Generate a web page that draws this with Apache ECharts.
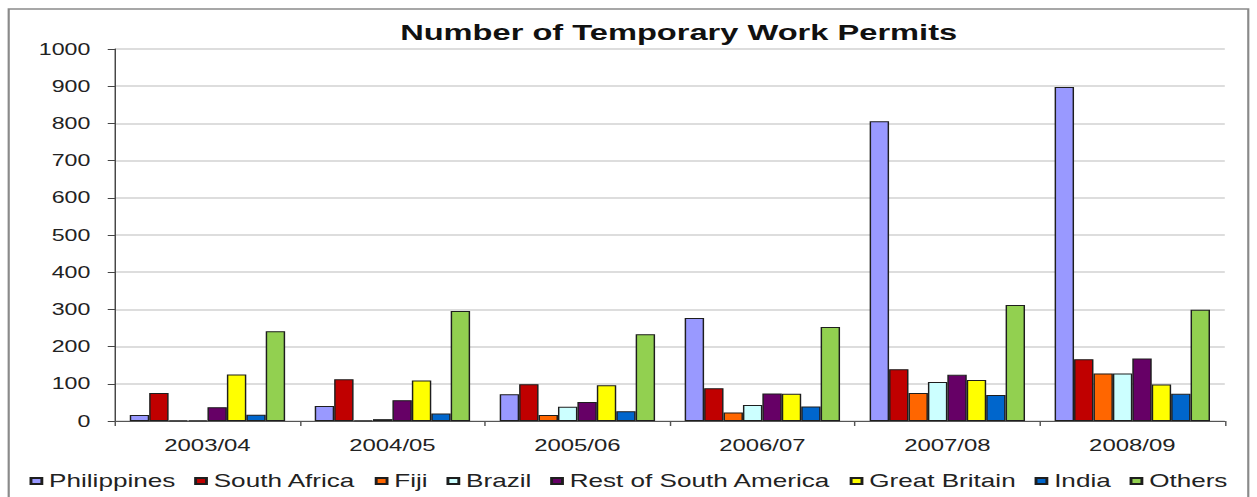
<!DOCTYPE html>
<html>
<head>
<meta charset="utf-8">
<script src="https://cdn.jsdelivr.net/npm/echarts@6/dist/echarts.min.js"></script>
<style>
  html, body { margin: 0; padding: 0; background: #fff; overflow: hidden; }
  /* chart is laid out at a narrower width and stretched horizontally */
  #wrap { width: 867px; height: 497px; transform: scaleX(1.4498); transform-origin: 0 0; }
</style>
</head>
<body>
<div id="wrap"></div>
<script>
const years = ['2003/04', '2004/05', '2005/06', '2006/07', '2007/08', '2008/09'];

const philippines       = [16, 40, 72, 277, 806, 898];
const southAfrica       = [75, 112, 99, 88, 139, 166];
const fiji              = [2, 2, 16, 23, 75, 128];
const brazil            = [2, 5, 38, 43, 105, 128];
const restSouthAmerica  = [37, 56, 51, 74, 124, 168];
const greatBritain      = [125, 109, 96, 73, 110, 98];
const india             = [17, 20, 26, 39, 70, 73];
const others            = [241, 296, 233, 253, 312, 299];

const seriesNames = ['Philippines', 'South Africa', 'Fiji', 'Brazil',
  'Rest of South America', 'Great Britain', 'India', 'Others'];
const seriesValues = [philippines, southAfrica, fiji, brazil,
  restSouthAmerica, greatBritain, india, others];
const seriesColors = ['#9999FF', '#C00000', '#FF6600', '#CCFFFF',
  '#660066', '#FFFF00', '#0066CC', '#92D050'];

const yTicks = { min: 0, max: 1000, step: 100 };

const FONT = '"Liberation Sans", Arial, sans-serif';

const chart = echarts.init(document.getElementById('wrap'), null, { renderer: 'svg' });

chart.setOption({
  animation: false,
  backgroundColor: '#fff',
  color: seriesColors,
  title: {
    text: 'Number of Temporary Work Permits',
    left: 276,
    top: 21,
    padding: 0,
    textStyle: { fontFamily: FONT, fontSize: 22.5, fontWeight: 'bold', color: '#111' }
  },
  graphic: [{
    type: 'rect',
    silent: true,
    z: -1,
    shape: { x: 6, y: 9, width: 855, height: 600 },
    style: { fill: 'none', stroke: '#8a8a8a', lineWidth: 1.5 }
  }],
  legend: {
    left: 'center',
    top: 467,
    itemWidth: 7.5,
    itemHeight: 6,
    itemGap: 13,
    icon: 'rect',
    textStyle: { fontFamily: FONT, fontSize: 18, color: '#222' },
    data: seriesNames
  },
  grid: { left: 79.3, right: 22.2, top: 49, bottom: 76, containLabel: false },
  xAxis: {
    type: 'category',
    data: years,
    axisLine: { lineStyle: { color: '#555', width: 1 } },
    axisTick: { show: true, length: 5, lineStyle: { color: '#555' } },
    axisLabel: { fontFamily: FONT, fontSize: 16.5, color: '#222', margin: 15 },
    splitLine: { show: false }
  },
  yAxis: {
    type: 'value',
    min: yTicks.min,
    max: yTicks.max,
    interval: yTicks.step,
    axisLine: { show: true, lineStyle: { color: '#444', width: 1 } },
    axisTick: { show: true, length: 5, lineStyle: { color: '#444' } },
    axisLabel: {
      fontFamily: FONT, fontSize: 16, color: '#222', margin: 17,
      formatter: v => String(v)
    },
    splitLine: { lineStyle: { color: '#d2d2d2', width: 1.5 } }
  },
  series: seriesNames.map((name, i) => ({
    name: name,
    type: 'bar',
    data: seriesValues[i],
    barGap: '0%',
    barCategoryGap: '16%',
    itemStyle: { color: seriesColors[i], borderColor: '#1e1e1e', borderWidth: 1 }
  }))
});
</script>
</body>
</html>
